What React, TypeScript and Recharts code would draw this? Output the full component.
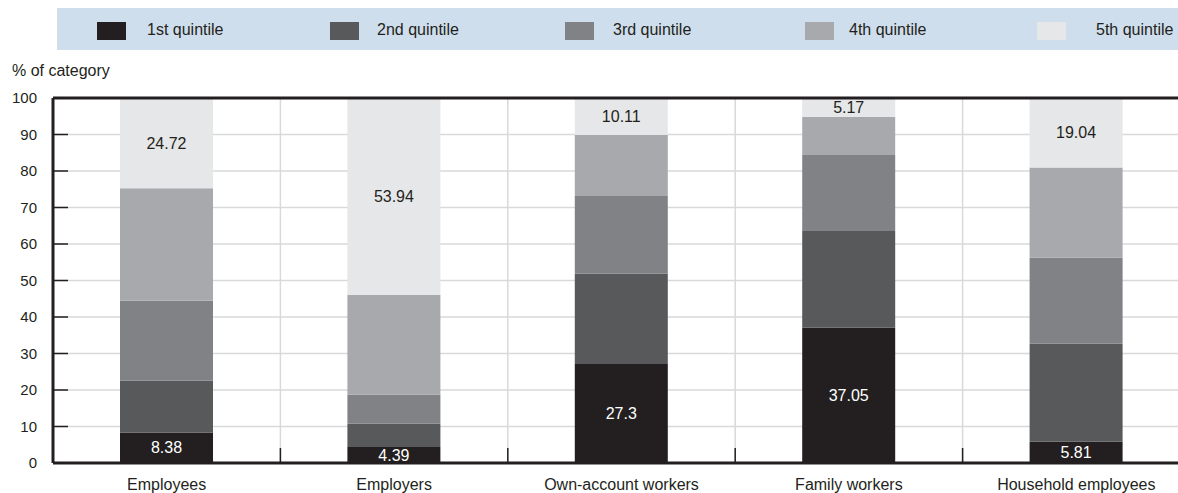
import React from 'react';
import { BarChart, Bar, XAxis, YAxis, CartesianGrid, ReferenceLine, LabelList } from 'recharts';

const categories = ['Employees', 'Employers', 'Own-account workers', 'Family workers', 'Household employees'];
const quintile1 = [8.38, 4.39, 27.3, 37.05, 5.81];
const quintile2 = [14.2, 6.36, 24.57, 26.51, 26.83];
const quintile3 = [21.9, 8.02, 21.26, 20.79, 23.61];
const quintile4 = [30.8, 27.29, 16.76, 10.48, 24.71];
const quintile5 = [24.72, 53.94, 10.11, 5.17, 19.04];
const seriesNames = ['1st quintile', '2nd quintile', '3rd quintile', '4th quintile', '5th quintile'];
const yTicks = [0, 10, 20, 30, 40, 50, 60, 70, 80, 90, 100];

const FONT = '"Liberation Sans", Arial, Helvetica, sans-serif';
const DARK = '#231f20';
const COLORS = ['#231f20', '#58595b', '#808285', '#a7a9ac', '#e6e7e8'];
const KEYS = ['q1', 'q2', 'q3', 'q4', 'q5'];

const CHART_W = 1182;
const CHART_H = 485;
const Y_W = 45;
const TOP = 90;
const X_H = 30;
const BAND = (CHART_W - Y_W) / categories.length;

const legendSwatchX = [89, 322, 557, 797, 1029];
const legendTextX = [139, 369, 605, 841, 1088];

if (typeof document !== 'undefined' && document.body) {
  document.body.style.margin = '0';
  document.body.style.overflow = 'hidden';
}

const data = categories.map((c, i) => ({
  category: c,
  q1: quintile1[i],
  q2: quintile2[i],
  q3: quintile3[i],
  q4: quintile4[i],
  q5: quintile5[i],
}));

const YTick = (props: any) => {
  const { x, y, payload } = props;
  return (
    <g>
      <line x1={x + 16} x2={x + 31} y1={y} y2={y} stroke={DARK} strokeWidth={1.5} />
      <text x={x} y={y} dy="0.355em" textAnchor="end" fontSize={15} fill={DARK} fontFamily={FONT}>
        {payload.value}
      </text>
    </g>
  );
};

const XTick = (props: any) => {
  const { x, y, payload, index } = props;
  const bx = x + BAND / 2;
  return (
    <g>
      {index < categories.length - 1 && (
        <line x1={bx} x2={bx} y1={y - 16} y2={y - 31} stroke={DARK} strokeWidth={1.5} />
      )}
      <text x={x} y={y} dy="0.71em" textAnchor="middle" fontSize={16} fill={DARK} fontFamily={FONT}>
        {payload.value}
      </text>
    </g>
  );
};

export default function App() {
  React.useLayoutEffect(() => {
    document.body.style.margin = '0';
    document.body.style.overflow = 'hidden';
  }, []);
  return (
    <div
      style={{
        position: 'relative',
        width: 1178,
        height: 493,
        overflow: 'hidden',
        fontFamily: FONT,
        background: '#ffffff',
      }}
    >
      <div style={{ position: 'absolute', left: 8, top: 8, width: 1170, height: 485 }}>
        <div
          style={{
            position: 'absolute',
            left: 49,
            top: 0,
            right: 0,
            height: 42,
            background: '#cfdeec',
          }}
        />
        {seriesNames.map((name, i) => (
          <React.Fragment key={name}>
            <div
              style={{
                position: 'absolute',
                left: legendSwatchX[i],
                top: 14,
                width: 29,
                height: 18,
                background: COLORS[i],
              }}
            />
            <div
              style={{
                position: 'absolute',
                left: legendTextX[i],
                top: 12,
                fontSize: 16,
                lineHeight: '20px',
                color: DARK,
                whiteSpace: 'nowrap',
              }}
            >
              {name}
            </div>
          </React.Fragment>
        ))}
        <div
          style={{
            position: 'absolute',
            left: 4,
            top: 53,
            fontSize: 16,
            lineHeight: '20px',
            color: DARK,
            whiteSpace: 'nowrap',
          }}
        >
          % of category
        </div>
        <div style={{ position: 'absolute', left: 0, top: 0 }}>
          <BarChart
            width={CHART_W}
            height={CHART_H}
            data={data}
            margin={{ top: TOP, right: 0, bottom: 0, left: 0 }}
            barSize={93}
          >
            <CartesianGrid
              stroke="#d9d9d9"
              strokeWidth={1.5}
              verticalCoordinatesGenerator={() =>
                categories.slice(1).map((_, i) => Y_W + (i + 1) * BAND)
              }
            />
            <XAxis
              dataKey="category"
              height={X_H}
              interval={0}
              tickLine={false}
              tickSize={0}
              tickMargin={16}
              tick={<XTick />}
              axisLine={{ stroke: DARK, strokeWidth: 3 }}
            />
            <YAxis
              width={Y_W}
              domain={[0, 100]}
              ticks={yTicks}
              interval={0}
              tickLine={false}
              tickSize={0}
              tickMargin={16}
              tick={<YTick />}
              axisLine={{ stroke: DARK, strokeWidth: 3 }}
            />
            {KEYS.map((k, i) => (
              <Bar key={k} dataKey={k} name={seriesNames[i]} stackId="a" fill={COLORS[i]} isAnimationActive={false}>
                {i === 0 && (
                  <LabelList dataKey={k} position="center" fill="#ffffff" fontSize={16} fontFamily={FONT} />
                )}
                {i === 4 && (
                  <LabelList dataKey={k} position="center" fill={DARK} fontSize={16} fontFamily={FONT} />
                )}
              </Bar>
            ))}
            <ReferenceLine y={100} stroke={DARK} strokeWidth={3} />
          </BarChart>
        </div>
      </div>
    </div>
  );
}
